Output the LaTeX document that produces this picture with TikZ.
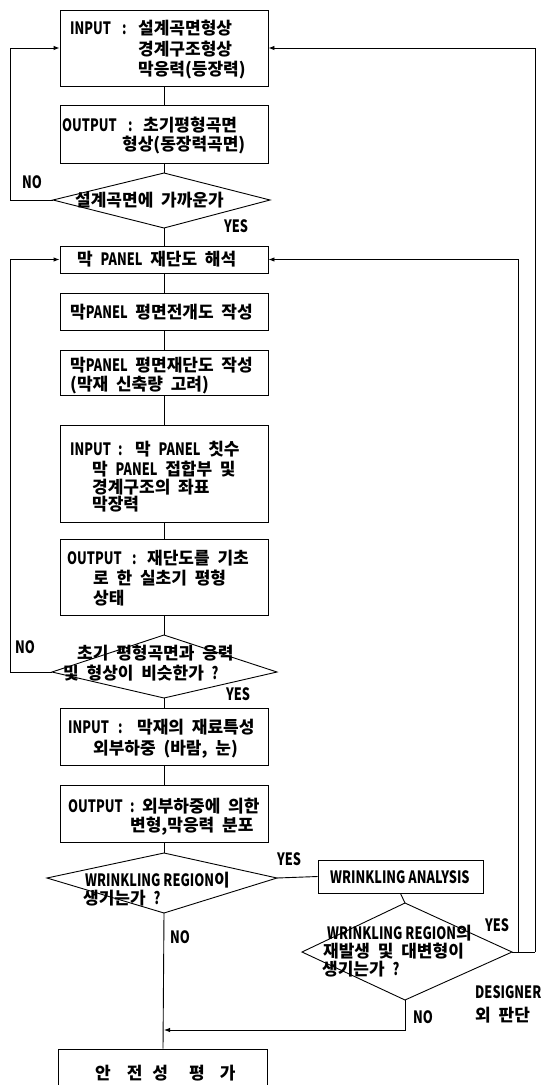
\documentclass[tikz,border=0pt]{standalone}
\usepackage{fontspec}
\setmainfont{Noto Sans CJK KR}[WordSpace=2]
\newfontfamily\latf{Noto Sans CJK KR}[FakeStretch=0.75]
\newcommand\lat[1]{{\latf #1}}
\newcommand\pre[3]{\makebox[#3][l]{\makebox[#2][l]{\lat{#1}}\lat{:}}}
\usetikzlibrary{arrows.meta}
\begin{document}
\begin{tikzpicture}[x=1pt,y=-1pt,
  every node/.style={font=\fontsize{17}{20}\selectfont\bfseries},
  ln/.style={line width=0.9pt},
  arr/.style={ln,-{Latex[length=6pt,width=4.5pt]}},
  box/.style={draw,ln,rectangle,inner sep=0pt},
  tx/.style={anchor=west,inner sep=0pt,text height=15pt,text depth=2pt},
  lbl/.style={inner sep=0pt}]
\useasboundingbox (0,0) rectangle (545,1085);
\clip (0,0) rectangle (545,1085);
% boxes
\node[box,minimum width=208pt,minimum height=76pt] (b1) at (164,48) {};
\node[box,minimum width=208pt,minimum height=58pt] (b2) at (164,134) {};
\node[box,minimum width=208pt,minimum height=27pt] (b3) at (164,259.5) {};
\node[box,minimum width=208pt,minimum height=37pt] (b4) at (164,311.5) {};
\node[box,minimum width=208pt,minimum height=45pt] (b5) at (164,372.5) {};
\node[box,minimum width=208pt,minimum height=97pt] (b6) at (164,473.5) {};
\node[box,minimum width=208pt,minimum height=76pt] (b7) at (164,577) {};
\node[box,minimum width=208pt,minimum height=57pt] (b8) at (164,736.5) {};
\node[box,minimum width=208pt,minimum height=57pt] (b9) at (164,813.5) {};
\node[box,minimum width=165pt,minimum height=33pt] (wa) at (400.5,876.5) {};
\node[box,minimum width=209pt,minimum height=51pt] (b10) at (163,1074.5) {};
% box texts
\node[tx] (t1a) at (70,28) {\pre{INPUT}{52pt}{68pt}설계곡면형상};
\node[tx] (t1b) at (138,49) {경계구조형상};
\node[tx] (t1c) at (138,69) {막응력(등장력)};
\node[tx] (t2a) at (62,125) {\pre{OUTPUT}{66pt}{81pt}초기평형곡면};
\node[tx] (t2b) at (122,144) {형상(동장력곡면)};
\node[tx] (t3a) at (77,259) {막 \lat{PANEL} 재단도 해석};
\node[tx] (t4a) at (70,312) {막\lat{PANEL} 평면전개도 작성};
\node[tx] (t5a) at (70,365) {막\lat{PANEL} 평면재단도 작성};
\node[tx] (t5b) at (70,384) {(막재 신축량 고려)};
\node[tx] (t6a) at (70,449) {\pre{INPUT}{48pt}{65pt}막 \lat{PANEL} 칫수};
\node[tx] (t6b) at (92,469) {막 \lat{PANEL} 접합부 및};
\node[tx] (t6c) at (92,487) {경계구조의 좌표};
\node[tx] (t6d) at (92,504) {막장력};
\node[tx] (t7a) at (67,558) {\pre{OUTPUT}{65pt}{80pt}재단도를 기초};
\node[tx] (t7b) at (93,578) {로 한 실초기 평형};
\node[tx] (t7c) at (93,598) {상태};
\node[tx] (t8a) at (68,727) {\pre{INPUT}{50pt}{69pt}막재의 재료특성};
\node[tx] (t8b) at (93,748) {외부하중 (바람, 눈)};
\node[tx] (t9a) at (68,806) {\pre{OUTPUT}{62pt}{74pt}외부하중에 의한};
\node[tx] (t9b) at (130,825) {변형,막응력 분포};
\node[tx] (twa) at (330,877) {\lat{WRINKLING ANALYSIS}};
\node[tx] (t10a) at (95,1073) {안\hspace{16pt}전\hspace{10pt}성\hspace{21pt}평\hspace{15pt}가};
% diamonds
\coordinate (d1t) at (164,173); \coordinate (d1l) at (53,200);
\coordinate (d1r) at (270,200); \coordinate (d1b) at (164,228);
\draw[ln] (d1t) -- (d1r) -- (d1b) -- (d1l) -- cycle;
\node[tx] (td1) at (75,200) {설계곡면에 가까운가};
\coordinate (d2t) at (164,635); \coordinate (d2l) at (52,672);
\coordinate (d2r) at (277,672); \coordinate (d2b) at (164,698);
\draw[ln] (d2t) -- (d2r) -- (d2b) -- (d2l) -- cycle;
\node[tx] (td2a) at (77,653) {초기 평형곡면과 응력};
\node[tx] (td2b) at (63,673) {및 형상이 비슷한가 \lat{?}};
\coordinate (d3t) at (164,853); \coordinate (d3l) at (47,878);
\coordinate (d3r) at (277,878); \coordinate (d3b) at (164,913);
\draw[ln] (d3t) -- (d3r) -- (d3b) -- (d3l) -- cycle;
\node[tx] (td3a) at (85,880) {\lat{WRINKLING REGION}이};
\node[tx] (td3b) at (83,898) {생기는가 \lat{?}};
\coordinate (d4t) at (405,903); \coordinate (d4l) at (302,952);
\coordinate (d4r) at (512,952); \coordinate (d4b) at (405,1000);
\draw[ln] (d4t) -- (d4r) -- (d4b) -- (d4l) -- cycle;
\node[tx] (td4a) at (327,933) {\lat{WRINKLING REGION}의};
\node[tx] (td4b) at (323,951) {재발생 및 대변형이};
\node[tx] (td4c) at (322,969) {생기는가 \lat{?}};
% connectors
\draw[ln] (b1) -- (b2);
\draw[ln] (b2.south) -- (d1t);
\draw[ln] (d1b) -- (b3.north);
\draw[ln] (b3) -- (b4);
\draw[ln] (b4) -- (b5);
\draw[ln] (b5) -- (b6);
\draw[ln] (b6) -- (b7);
\draw[ln] (b7.south) -- (d2t);
\draw[ln] (d2b) -- (b8.north);
\draw[ln] (b8) -- (b9);
\draw[ln] (b9.south) -- (d3t);
\draw[ln] (d3b) -- (b10.north);
\draw[ln] (d3r) -- (wa.west);
\draw[ln] (wa.south) -- (d4t);
\draw[arr] (d1l) -- ++(-43,0) |- (b1.west);
\draw[arr] (d2l) -- ++(-42,0) |- (b3.west);
\coordinate (m) at (164,1030);
\draw[arr] (d4b) |- (m);
\coordinate (j1) at (518,952);
\coordinate (j2) at (535,952);
\draw[ln] (d4r) -- (j2);
\draw[arr] (j2) |- (b1.east);
\draw[arr] (j1) |- (b3.east);
% labels
\node[lbl] (no1) at (32,182) {\lat{NO}};
\node[lbl] (yes1) at (236,226) {\lat{YES}};
\node[lbl] (no2) at (25,647) {\lat{NO}};
\node[lbl] (yes2) at (238,694) {\lat{YES}};
\node[lbl] (yes3) at (289,859) {\lat{YES}};
\node[lbl] (no3) at (180,937) {\lat{NO}};
\node[lbl] (yes4) at (497,925) {\lat{YES}};
\node[lbl] (no4) at (423,1017) {\lat{NO}};
\node[lbl,anchor=west] (des1) at (475,992) {\lat{DESIGNER}};
\node[tx] (des2) at (475,1015) {외 판단};
\end{tikzpicture}
\end{document}
